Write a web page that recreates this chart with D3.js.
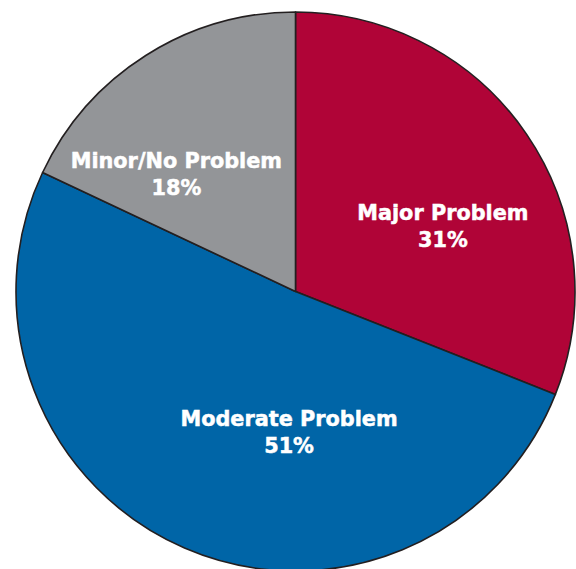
<!DOCTYPE html>
<html>
<head>
<meta charset="utf-8">
<script src="https://cdn.jsdelivr.net/npm/d3@7/dist/d3.min.js"></script>
<style>
  html, body { margin: 0; padding: 0; background: #ffffff; }
  svg { display: block; }
</style>
</head>
<body>
<svg id="chart" width="576" height="569"></svg>
<script>
// ---- data ----
const categories = ["Major Problem", "Moderate Problem", "Minor/No Problem"];
const values = [31, 51, 18];
const valueLabels = ["31%", "51%", "18%"];

// ---- styling / layout ----
const colors = ["#b00437", "#0065a7", "#939598"];
const strokeColor = "#231f20";
const W = 576, H = 569;
const cx = 295.5, cy = 291.5, R = 279.5;
// label anchor (angle in degrees clockwise from top, distance from centre)
const labelLayout = [
  { angle: 64.7, dist: 163 },
  { angle: 182.7, dist: 137 },
  { angle: 315.5, dist: 170 }
];

const svg = d3.select("#chart");
const g = svg.append("g").attr("transform", `translate(${cx},${cy})`);

const data = categories.map((c, i) => ({ name: c, value: values[i], label: valueLabels[i], color: colors[i], layout: labelLayout[i] }));

const pie = d3.pie().sort(null).value(d => d.value).startAngle(0).endAngle(2 * Math.PI);
const arc = d3.arc().innerRadius(0).outerRadius(R);

g.selectAll("path.slice")
  .data(pie(data))
  .join("path")
  .attr("class", "slice")
  .attr("d", arc)
  .attr("fill", d => d.data.color)
  .attr("stroke", strokeColor)
  .attr("stroke-width", 1.6)
  .attr("stroke-linejoin", "round");

const fontFamily = "'DejaVu Sans', 'Open Sans', sans-serif";
const labels = g.selectAll("g.lab")
  .data(data)
  .join("g")
  .attr("class", "lab")
  .attr("transform", d => {
    const a = d.layout.angle * Math.PI / 180;
    return `translate(${Math.sin(a) * d.layout.dist},${-Math.cos(a) * d.layout.dist})`;
  });

function addLine(sel, y, accessor) {
  sel.append("text")
    .attr("text-anchor", "middle")
    .attr("y", y)
    .attr("fill", "#ffffff")
    .attr("stroke", "#ffffff")
    .attr("stroke-width", 0.5)
    .attr("font-family", fontFamily)
    .attr("font-weight", "bold")
    .attr("font-size", 20.8)
    .text(accessor);
}
addLine(labels, -2, d => d.name);
addLine(labels, 25, d => d.label);
</script>
</body>
</html>
